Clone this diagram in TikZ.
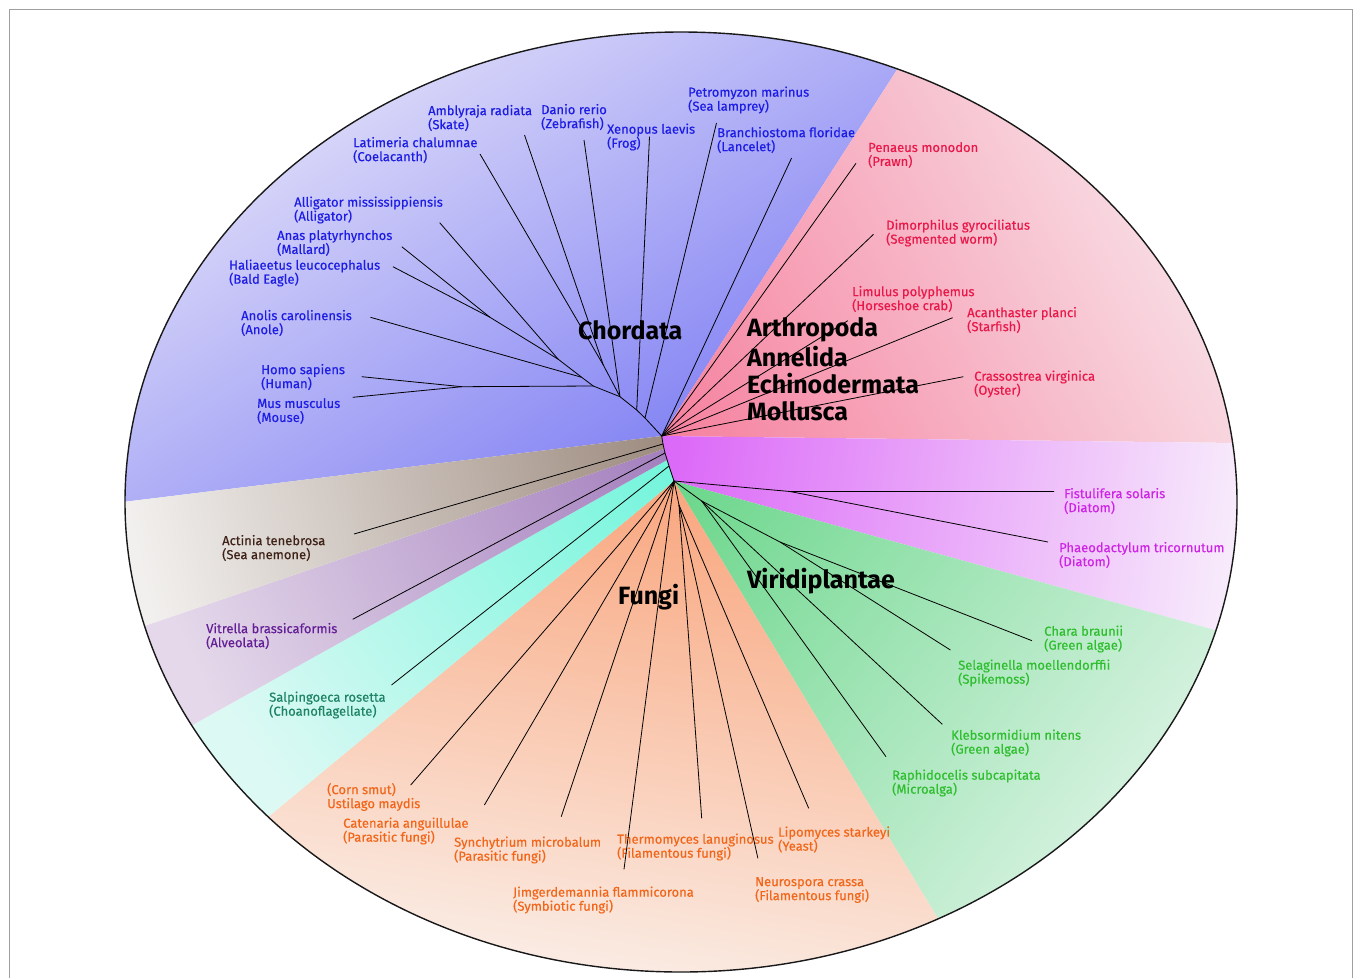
\documentclass[tikz,border=0pt]{standalone}
\usepackage{fontspec}
\setmainfont{Fira Sans}
\newfontfamily\labfont{Fira Sans}[FakeBold=0.35]
\usetikzlibrary{calc}
% sector colours (near centre / near rim)
\definecolor{blueIn}{RGB}{134,134,244}\definecolor{blueOut}{RGB}{226,224,249}
\definecolor{pinkIn}{RGB}{246,128,158}\definecolor{pinkOut}{RGB}{248,222,229}
\definecolor{magIn}{RGB}{220,106,248}\definecolor{magOut}{RGB}{247,234,251}
\definecolor{grnIn}{RGB}{106,214,138}\definecolor{grnOut}{RGB}{210,241,221}
\definecolor{orgIn}{RGB}{249,166,126}\definecolor{orgOut}{RGB}{250,236,228}
\definecolor{tealIn}{RGB}{116,245,220}\definecolor{tealOut}{RGB}{220,249,244}
\definecolor{purIn}{RGB}{164,128,190}\definecolor{purOut}{RGB}{228,216,234}
\definecolor{brnIn}{RGB}{158,140,128}\definecolor{brnOut}{RGB}{242,240,238}
% text colours
\definecolor{tBlue}{RGB}{28,28,228}
\definecolor{tPink}{RGB}{232,24,74}
\definecolor{tMag}{RGB}{206,36,230}
\definecolor{tGrn}{RGB}{46,190,46}
\definecolor{tOrg}{RGB}{242,102,26}
\definecolor{tBrn}{RGB}{62,34,24}
\definecolor{tPur}{RGB}{100,30,150}
\definecolor{tTeal}{RGB}{30,130,100}
% vertical shadings: shaded square has half-width 1100, so 25bp = 1100pt
\pgfdeclareverticalshading{lnBlue}{100bp}{color(0bp)=(blueIn);color(50bp)=(blueIn);color(61.4bp)=(blueOut);color(100bp)=(blueOut)}
\pgfdeclareverticalshading{lnPink}{100bp}{color(0bp)=(pinkIn);color(50bp)=(pinkIn);color(62.7bp)=(pinkOut);color(100bp)=(pinkOut)}
\pgfdeclareverticalshading{lnMag}{100bp}{color(0bp)=(magIn);color(50bp)=(magIn);color(62.7bp)=(magOut);color(100bp)=(magOut)}
\pgfdeclareverticalshading{lnGrn}{100bp}{color(0bp)=(grnIn);color(50bp)=(grnIn);color(62.3bp)=(grnOut);color(100bp)=(grnOut)}
\pgfdeclareverticalshading{lnOrg}{100bp}{color(0bp)=(orgIn);color(50bp)=(orgIn);color(61.4bp)=(orgOut);color(100bp)=(orgOut)}
\pgfdeclareverticalshading{lnTeal}{100bp}{color(0bp)=(tealIn);color(50bp)=(tealIn);color(61.4bp)=(tealOut);color(100bp)=(tealOut)}
\pgfdeclareverticalshading{lnPur}{100bp}{color(0bp)=(purIn);color(50bp)=(purIn);color(61.8bp)=(purOut);color(100bp)=(purOut)}
\pgfdeclareverticalshading{lnBrn}{100bp}{color(0bp)=(brnIn);color(50bp)=(brnIn);color(62.3bp)=(brnOut);color(100bp)=(brnOut)}
\begin{document}
\begin{tikzpicture}[x=1pt,y=-1pt,
  lab/.style={anchor=west,align=left,inner sep=0pt,font=\labfont\fontsize{13}{14}\selectfont},
  big/.style={anchor=west,inner sep=0pt,font=\fontsize{25}{27}\selectfont\bfseries},
  br/.style={draw=black,line width=0.8pt,line join=round},
  sq/.style={shading=#1}]
\useasboundingbox (0,0) rectangle (1355,978);
\fill[white] (0,0) rectangle (1355,978);
\draw[gray!75,line width=1pt] (9,978) -- (9,9) -- (1352,9) -- (1352,978);
% ---- tree junctions
\coordinate (A1) at (661.7,436);
\coordinate (N1) at (663,444);
\coordinate (U0) at (664,449);
\coordinate (N2) at (665,453);
\coordinate (T0) at (667,460);
\coordinate (N3) at (669,466);
\coordinate (A2) at (674,481);
\coordinate (B1) at (645,418);
\coordinate (B2) at (636.7,410);
\coordinate (B3) at (620,396.7);
\coordinate (B4) at (593.3,386);
\coordinate (C1) at (603.3,365);
\coordinate (C2) at (558.3,359.3);
\coordinate (C3) at (490,317.3);
\coordinate (C4) at (581.7,377.3);
\coordinate (C5) at (462,386.7);
\coordinate (D1) at (790,491.5);
\coordinate (G1) at (701.7,501);
\coordinate (G2) at (780,542);
\coordinate (O1) at (679,505);
% ---- sectors (linear gradient along each sector's bisector)
\begin{scope}
\clip (681,502) ellipse [x radius=556pt, y radius=470pt];
\begin{scope}\clip (A1) -- (1615,-1048) -- (-1485,-1048) -- (-1485,699) -- cycle;
\shade[shading=lnBlue,shading angle=32] ($(A1)+(-1100,-1100)$) rectangle ($(A1)+(1100,1100)$);\end{scope}
\begin{scope}\clip (A1) -- (1615,-1048) -- (2963,-1048) -- (2963,464) -- cycle;
\shade[shading=lnPink,shading angle=-61.7] ($(A1)+(-1100,-1100)$) rectangle ($(A1)+(1100,1100)$);\end{scope}
\begin{scope}\clip (A1) -- (2963,464) -- (2838,1077) -- (A2) -- (N3) -- (T0) -- (N2) -- (U0) -- (N1) -- cycle;
\shade[shading=lnMag,shading angle=-98] ($(A2)+(-1100,-1100)$) rectangle ($(A2)+(1100,1100)$);\end{scope}
\begin{scope}\clip (A2) -- (2838,1077) -- (2838,2245) -- (1738,2245) -- cycle;
\shade[shading=lnGrn,shading angle=-127] ($(A2)+(-1100,-1100)$) rectangle ($(A2)+(1100,1100)$);\end{scope}
\begin{scope}\clip (A2) -- (1738,2245) -- (-950,2245) -- (-950,1825) -- cycle;
\shade[shading=lnOrg,shading angle=-189.7] ($(A2)+(-1100,-1100)$) rectangle ($(A2)+(1100,1100)$);\end{scope}
\begin{scope}\clip (T0) -- (N3) -- (A2) -- (-950,1825) -- (-1233,1521) -- cycle;
\shade[shading=lnTeal,shading angle=-235.6] ($(N3)+(-1100,-1100)$) rectangle ($(N3)+(1100,1100)$);\end{scope}
\begin{scope}\clip (U0) -- (N2) -- (T0) -- (-1233,1521) -- (-1404,1153) -- cycle;
\shade[shading=lnPur,shading angle=-246] ($(N2)+(-1100,-1100)$) rectangle ($(N2)+(1100,1100)$);\end{scope}
\begin{scope}\clip (A1) -- (N1) -- (U0) -- (-1404,1153) -- (-1485,699) -- cycle;
\shade[shading=lnBrn,shading angle=-257] ($(N1)+(-1100,-1100)$) rectangle ($(N1)+(1100,1100)$);\end{scope}
\end{scope}
\draw[line width=1.4pt,black!90] (681,502) ellipse [x radius=556pt, y radius=470pt];
% ---- group titles
\node[big] (hChor) at (578,330) {Chordata};
\node[big] (hArth) at (747,330) {Arthropoda};
\node[big] (hAnne) at (747,357) {Annelida};
\node[big] (hEchi) at (747,384) {Echinodermata};
\node[big] (hMoll) at (747,411) {Mollusca};
\node[big] (hFung) at (618,597) {Fungi};
\node[big] (hViri) at (747,581) {Viridiplantae};
% ---- leaf labels
\node[lab,text=tBlue] (lPet) at (688,100) {Petromyzon marinus\\(Sea lamprey)};
\node[lab,text=tBlue] (lAmb) at (428,118) {Amblyraja radiata\\(Skate)};
\node[lab,text=tBlue] (lDan) at (541,117) {Danio rerio\\(Zebrafish)};
\node[lab,text=tBlue] (lXen) at (607,137) {Xenopus laevis\\(Frog)};
\node[lab,text=tBlue] (lBra) at (717,140) {Branchiostoma floridae\\(Lancelet)};
\node[lab,text=tBlue] (lLat) at (353,150) {Latimeria chalumnae\\(Coelacanth)};
\node[lab,text=tBlue] (lAll) at (294,210) {Alligator mississippiensis\\(Alligator)};
\node[lab,text=tBlue] (lAna) at (277,243) {Anas platyrhynchos\\(Mallard)};
\node[lab,text=tBlue] (lHal) at (229,273) {Haliaeetus leucocephalus\\(Bald Eagle)};
\node[lab,text=tBlue] (lAno) at (241,323) {Anolis carolinensis\\(Anole)};
\node[lab,text=tBlue] (lHom) at (261,377) {Homo sapiens\\(Human)};
\node[lab,text=tBlue] (lMus) at (257,411) {Mus musculus\\(Mouse)};
\node[lab,text=tPink] (lPen) at (868,155) {Penaeus monodon\\(Prawn)};
\node[lab,text=tPink] (lDim) at (886,233) {Dimorphilus gyrociliatus\\(Segmented worm)};
\node[lab,text=tPink] (lLim) at (852,299) {Limulus polyphemus\\(Horseshoe crab)};
\node[lab,text=tPink] (lAca) at (967,320) {Acanthaster planci\\(Starfish)};
\node[lab,text=tPink] (lCra) at (974,384) {Crassostrea virginica\\(Oyster)};
\node[lab,text=tMag] (lFis) at (1064,501) {Fistulifera solaris\\(Diatom)};
\node[lab,text=tMag] (lPha) at (1059,555) {Phaeodactylum tricornutum\\(Diatom)};
\node[lab,text=tGrn] (lCha) at (1044,639) {Chara braunii\\(Green algae)};
\node[lab,text=tGrn] (lSel) at (958,673) {Selaginella moellendorffii\\(Spikemoss)};
\node[lab,text=tGrn] (lKle) at (951,743) {Klebsormidium nitens\\(Green algae)};
\node[lab,text=tGrn] (lRap) at (892,783) {Raphidocelis subcapitata\\(Microalga)};
\node[lab,text=tOrg] (lUst) at (327,797) {(Corn smut)\\Ustilago maydis};
\node[lab,text=tOrg] (lCat) at (343,831) {Catenaria anguillulae\\(Parasitic fungi)};
\node[lab,text=tOrg] (lSyn) at (454,850) {Synchytrium microbalum\\(Parasitic fungi)};
\node[lab,text=tOrg] (lThe) at (617,847) {Thermomyces lanuginosus\\(Filamentous fungi)};
\node[lab,text=tOrg] (lLip) at (778,839.5) {Lipomyces starkeyi\\(Yeast)};
\node[lab,text=tOrg] (lJim) at (513,900) {Jimgerdemannia flammicorona\\(Symbiotic fungi)};
\node[lab,text=tOrg] (lNeu) at (755,890) {Neurospora crassa\\(Filamentous fungi)};
\node[lab,text=tBrn] (lAct) at (222,548) {Actinia tenebrosa\\(Sea anemone)};
\node[lab,text=tPur] (lVit) at (206,636) {Vitrella brassicaformis\\(Alveolata)};
\node[lab,text=tTeal] (lSal) at (269,705) {Salpingoeca rosetta\\(Choanoflagellate)};
% ---- leaf tips
\coordinate (xPet) at (716.5,123);
\coordinate (xBra) at (791.6,158);
\coordinate (xXen) at (649.5,136.7);
\coordinate (xDan) at (584,140);
\coordinate (xAmb) at (524.5,135);
\coordinate (xLat) at (480,154);
\coordinate (xAll) at (439.7,222.7);
\coordinate (xAna) at (401.8,246.7);
\coordinate (xHal) at (392.9,266.7);
\coordinate (xAno) at (370.5,317.3);
\coordinate (xHom) at (361.6,376.7);
\coordinate (xMus) at (352.7,397.3);
\coordinate (xPen) at (856,163.3);
\coordinate (xDim) at (873.5,234.3);
\coordinate (xLim) at (847.8,320.7);
\coordinate (xAca) at (952.6,317.7);
\coordinate (xCra) at (963.4,376.7);
\coordinate (xFis) at (1054,491.5);
\coordinate (xPha) at (1048,542);
\coordinate (xCha) at (1032,640.7);
\coordinate (xSel) at (950.4,650);
\coordinate (xKle) at (942.3,724.3);
\coordinate (xRap) at (886,756.7);
\coordinate (xUst) at (410.7,785);
\coordinate (xCat) at (484.4,805);
\coordinate (xSyn) at (561.2,816.7);
\coordinate (xJim) at (624,869.3);
\coordinate (xThe) at (701.7,818.3);
\coordinate (xNeu) at (757.9,858.3);
\coordinate (xLip) at (808.7,808.3);
\coordinate (xAct) at (354,534);
\coordinate (xVit) at (352.7,619.3);
\coordinate (xSal) at (391.5,685);
% ---- branches
\draw[br] (A1) -- (B1) -- (B2) -- (B3) -- (B4);
\draw[br] (A1) -- (N1) -- (N2) -- (N3) -- (A2);
\draw[br] (xPet) -- (B1);
\draw[br] (xBra) -- (A1);
\draw[br] (xXen) -- (B2);
\draw[br] (xDan) -- (B3);
\draw[br] (xAmb) -- (C1);
\draw[br] (xLat) -- (C1) -- (B3);
\draw[br] (xAll) -- (C2);
\draw[br] (xAna) -- (C3);
\draw[br] (xHal) -- (C3) -- (C2) -- (C4) -- (B4);
\draw[br] (xAno) -- (C4);
\draw[br] (xHom) -- (C5);
\draw[br] (xMus) -- (C5) -- (B4);
\draw[br] (xPen) -- (A1);
\draw[br] (xDim) -- (A1);
\draw[br] (xLim) -- (A1);
\draw[br] (xAca) -- (A1);
\draw[br] (xCra) -- (A1);
\draw[br] (A2) -- (D1) -- (xFis);
\draw[br] (D1) -- (xPha);
\draw[br] (A2) -- (G1) -- (G2) -- (xCha);
\draw[br] (G2) -- (xSel);
\draw[br] (G1) -- (xKle);
\draw[br] (G1) -- (xRap);
\draw[br] (A2) -- (xUst);
\draw[br] (A2) -- (xCat);
\draw[br] (A2) -- (xSyn);
\draw[br] (A2) -- (xJim);
\draw[br] (A2) -- (O1) -- (xThe);
\draw[br] (O1) -- (xNeu);
\draw[br] (O1) -- (xLip);
\draw[br] (xAct) -- (N1);
\draw[br] (xVit) -- (N2);
\draw[br] (xSal) -- (N3);
\end{tikzpicture}
\end{document}
